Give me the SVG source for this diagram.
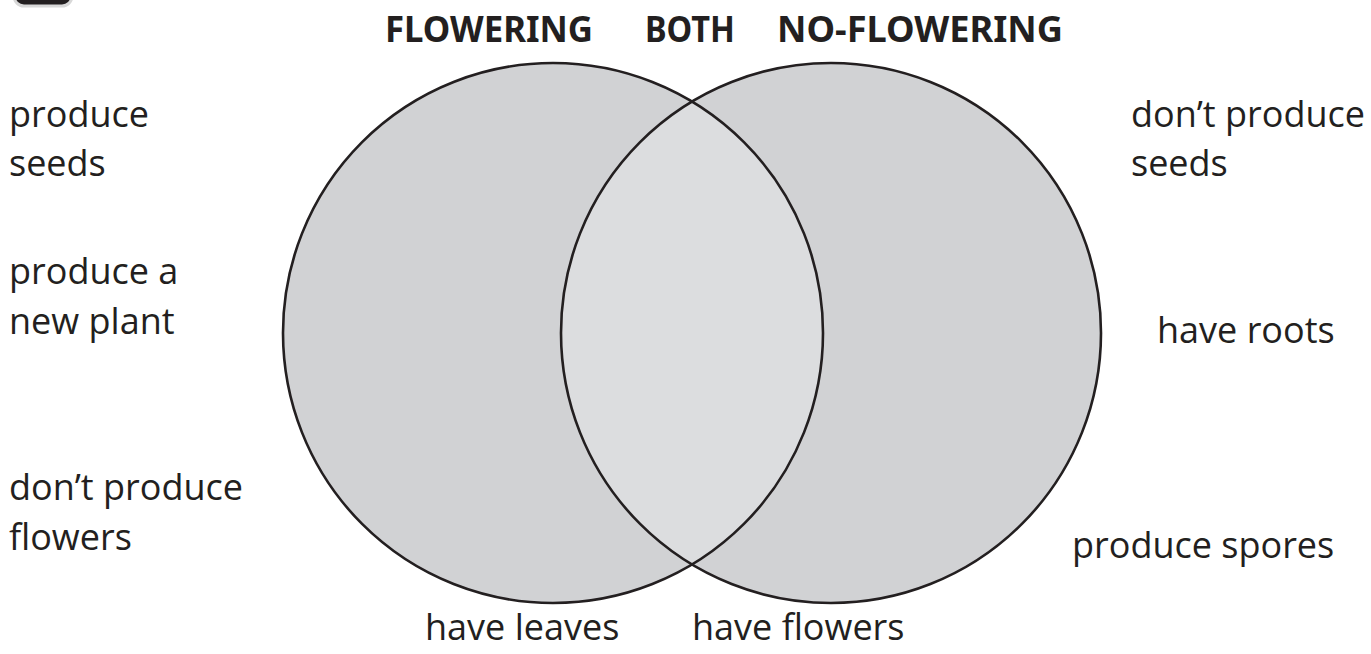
<svg xmlns="http://www.w3.org/2000/svg" width="1371" height="654" viewBox="0 0 1371 654">
<style>
.t{font-family:"Open Sans","Noto Sans","Liberation Sans",sans-serif;font-size:36px;fill:#231f20}
.h{font-family:"Noto Sans","Open Sans","Liberation Sans",sans-serif;font-size:35px;font-weight:bold;fill:#231f20}
.c{fill:#d1d2d4}
.o{fill:none;stroke:#231f20;stroke-width:2.6}
</style>
<defs>
<clipPath id="clipL"><circle cx="553" cy="333" r="270"/></clipPath>
</defs>
<rect width="1371" height="654" fill="#fff"/>
<rect x="14" y="-30" width="58" height="36" rx="10" fill="#231f20" stroke="#d8d8d8" stroke-width="3"/>
<g id="titles">
<text class="h" x="385" y="42" textLength="208" lengthAdjust="spacingAndGlyphs">FLOWERING</text>
<text class="h" x="645" y="42" textLength="90" lengthAdjust="spacingAndGlyphs">BOTH</text>
<text class="h" x="777" y="42" textLength="286" lengthAdjust="spacingAndGlyphs">NO-FLOWERING</text>
</g>
<g id="venn">
<g id="left-circle"><circle class="c" cx="553" cy="333" r="270"/></g>
<g id="right-circle"><circle class="c" cx="831" cy="333" r="270"/></g>
<g id="overlap"><circle cx="831" cy="333" r="270" fill="#dcdddf" clip-path="url(#clipL)"/></g>
<circle class="o" cx="553" cy="333" r="270"/>
<circle class="o" cx="831" cy="333" r="270"/>
</g>
<g id="labels">
<text class="t" x="9" y="127">produce</text>
<text class="t" x="9" y="176">seeds</text>
<text class="t" x="9" y="284">produce a</text>
<text class="t" x="9" y="334">new plant</text>
<text class="t" x="9" y="500">don’t produce</text>
<text class="t" x="9" y="550">flowers</text>
<text class="t" x="1131" y="127">don’t produce</text>
<text class="t" x="1131" y="176">seeds</text>
<text class="t" x="1157" y="343">have roots</text>
<text class="t" x="1072" y="558">produce spores</text>
<text class="t" x="425" y="640">have leaves</text>
<text class="t" x="692" y="640">have flowers</text>
</g>
</svg>
